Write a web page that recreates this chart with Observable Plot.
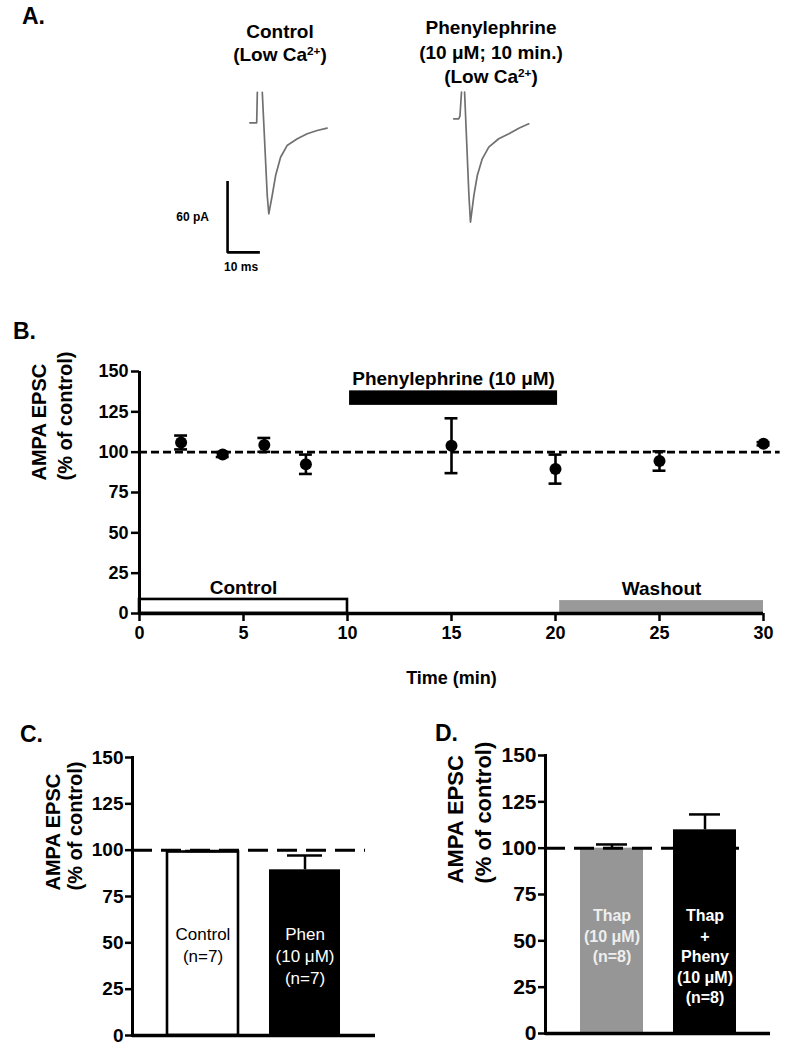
<!DOCTYPE html>
<html><head><meta charset="utf-8">
<script src="https://cdn.jsdelivr.net/npm/d3@7"></script>
<script src="https://cdn.jsdelivr.net/npm/@observablehq/plot@0.6"></script>
<style>
html,body{margin:0;padding:0;background:#fff;}
#fig{position:relative;width:787px;height:1050px;overflow:hidden;font-family:"Liberation Sans",Arial,Helvetica,sans-serif;color:#000;}
.plabel{position:absolute;font-weight:bold;line-height:1;}
.title{position:absolute;font-weight:bold;font-size:19px;text-align:center;width:220px;white-space:nowrap;}
.title sup{font-size:0.62em;line-height:0;vertical-align:0.55em;}
svg{overflow:visible;}
</style></head><body><div id="fig"></div>
<script>
const FONT = '"Liberation Sans", Arial, Helvetica, sans-serif';

// ---------- Panel A: example traces (ms, pA) ----------
const ctrlTimeMs    = [-0.2, 2.0, 2.2, null, 3.8, 5.4, 5.9, 7.0, 8.1, 9.7, 11.8, 15.1, 18.3, 21.5, 24.7];
const ctrlCurrentPa = [0, 0, 26.2, null, 26.2, -62.3, -78, -62.3, -45.2, -29.5, -19.5, -13.7, -9.4, -6.6, -4.6];
const phenTimeMs    = [0.4, 2.0, 2.4, 2.9, null, 3.9, 5.3, 5.8, 6.9, 8.0, 9.6, 11.7, 14.9, 18.2, 21.4, 24.6];
const phenCurrentPa = [0, 0, 2.2, 22.8, null, 22.8, -65.7, -88.6, -65.7, -48.6, -34.3, -24.3, -17.1, -12.9, -8.1, -4.3];
const scaleBarMs = 10;
const scaleBarPa = 60;

// ---------- Panel B: time course ----------
const timeMin  = [2, 4, 6, 8, 15, 20, 25, 30];
const epscMean = [106, 98.5, 104.5, 92.5, 104, 89.5, 94.5, 105.2];
const epscSem  = [4.3, 1.5, 4.3, 6, 17, 9, 6, 1];
const periodNames = ["Control", "Phenylephrine (10 μM)", "Washout"];
const periodStart = [0, 10.1, 20.2];
const periodEnd   = [10, 20.1, 30];
const periodLow   = [0, 129, 0];
const periodHigh  = [8.7, 138, 8];
const timeTicks = [0, 5, 10, 15, 20, 25, 30];
const pctTicks  = [0, 25, 50, 75, 100, 125, 150];
const baselinePct = 100;

// ---------- Panel C ----------
const cGroups  = ["Control", "Phen"];
const cMean    = [99, 89.4];
const cSem     = [0.6, 7.7];
const cBarText = ["Control\n(n=7)", "Phen\n(10 μM)\n(n=7)"];

// ---------- Panel D ----------
const dGroups  = ["Thap", "Thap + Pheny"];
const dMean    = [100, 109.9];
const dSem     = [2, 8.3];
const dBarText = ["Thap\n(10 μM)\n(n=8)", "Thap\n+\nPheny\n(10 μM)\n(n=8)"];

const fig = document.getElementById("fig");
function place(el, left, top) {
  el.style.position = "absolute";
  el.style.left = left + "px";
  el.style.top = top + "px";
  fig.appendChild(el);
  return el;
}
function html(cls, inner, left, top, extra) {
  const d = document.createElement("div");
  d.className = cls;
  d.innerHTML = inner;
  if (extra) Object.assign(d.style, extra);
  return place(d, left, top);
}
const baseStyle = {fontFamily: FONT, color: "black", background: "transparent", overflow: "visible"};

// Panel letters
html("plabel", "A.", 22, 5, {fontSize: "23px"});
html("plabel", "B.", 13, 320, {fontSize: "23px"});
html("plabel", "C.", 20, 723, {fontSize: "23px"});
html("plabel", "D.", 435, 722, {fontSize: "23px"});

// Panel A titles
html("title", "Control<br>(Low Ca<sup>2+</sup>)", 170, 20, {lineHeight: "23px"});
html("title", "Phenylephrine<br>(10 μM; 10 min.)<br>(Low Ca<sup>2+</sup>)", 381, 16, {lineHeight: "24.5px"});

// ---------- Panel A plots ----------
const pxPerMs = 3.1, pxPerPa = 70 / 60;
function tracePlot(t, cur, w, h, x0, y0, extra) {
  const data = t.map((tt, k) => ({t: tt, i: cur[k]}));
  return Plot.plot({
    width: w, height: h, margin: 0,
    x: {axis: null, domain: [-x0 / pxPerMs, (w - x0) / pxPerMs]},
    y: {axis: null, domain: [-(h - y0) / pxPerPa, y0 / pxPerPa]},
    style: baseStyle,
    marks: [
      Plot.line(data, {x: "t", y: "i", stroke: "#707070", strokeWidth: 1.7, strokeLinejoin: "round"}),
      ...(extra || [])
    ]
  });
}
const sbT = -7.4, sbI = -111.1;
const scaleBarPts = [
  {t: sbT, i: sbI + scaleBarPa},
  {t: sbT, i: sbI},
  {t: sbT + scaleBarMs, i: sbI}
];
const ctrlPlot = tracePlot(ctrlTimeMs, ctrlCurrentPa, 165, 195, 70, 37.3, [
  Plot.line(scaleBarPts, {x: "t", y: "i", stroke: "black", strokeWidth: 2.6, strokeLinejoin: "miter", strokeLinecap: "square"}),
  Plot.text([`${scaleBarPa} pA`], {x: sbT, y: sbI + scaleBarPa / 2, dx: -35, fontWeight: "bold", fontSize: 12}),
  Plot.text([`${scaleBarMs} ms`], {x: sbT + scaleBarMs / 2, y: sbI, dy: 15, dx: -2, fontWeight: "bold", fontSize: 12})
]);
place(ctrlPlot, 180, 85);
const phenPlot = tracePlot(phenTimeMs, phenCurrentPa, 130, 195, 32, 33.3);
place(phenPlot, 420, 85);

// ---------- Panel B ----------
const ptData = timeMin.map((t, k) => ({t, m: epscMean[k], s: epscSem[k]}));
const periods = periodNames.map((n, k) => ({name: n, x1: periodStart[k], x2: periodEnd[k], y1: periodLow[k], y2: periodHigh[k]}));
const capHalf = 0.31;
const plotB = Plot.plot({
  width: 787, height: 370, marginLeft: 139, marginRight: 24, marginTop: 41, marginBottom: 87,
  x: {domain: [0, 30]},
  y: {domain: [0, 150]},
  style: baseStyle,
  marks: [
    Plot.rect(periods, {filter: d => d.name === periodNames[0], x1: "x1", x2: "x2", y1: "y1", y2: "y2", fill: "white", stroke: "black", strokeWidth: 2.6}),
    Plot.rect(periods, {filter: d => d.name === periodNames[1], x1: "x1", x2: "x2", y1: "y1", y2: "y2", fill: "black"}),
    Plot.rect(periods, {filter: d => d.name === periodNames[2], x1: "x1", x2: "x2", y1: "y1", y2: "y2", fill: "#999999"}),
    Plot.text(periods, {x: d => (d.x1 + d.x2) / 2, y: "y2", text: "name", dy: -12, fontWeight: "bold", fontSize: 19}),
    Plot.ruleY([baselinePct], {x1: 0, x2: 30.8, stroke: "black", strokeWidth: 2.6, strokeDasharray: "8,4"}),
    Plot.ruleX(ptData, {x: "t", y1: d => d.m - d.s, y2: d => d.m + d.s, strokeWidth: 2.6}),
    Plot.ruleY(ptData, {y: d => d.m + d.s, x1: d => d.t - capHalf, x2: d => d.t + capHalf, strokeWidth: 2.6}),
    Plot.ruleY(ptData, {y: d => d.m - d.s, x1: d => d.t - capHalf, x2: d => d.t + capHalf, strokeWidth: 2.6}),
    Plot.dot(ptData, {x: "t", y: "m", r: 6, fill: "black"}),
    Plot.ruleY([0], {x1: 0, x2: 30, strokeWidth: 3.5}),
    Plot.ruleX([0], {y1: 0, y2: 150, strokeWidth: 3}),
    Plot.axisX({ticks: timeTicks, tickSize: 8, tickPadding: 5, strokeWidth: 2.5, fontWeight: "bold", fontSize: 18, label: null}),
    Plot.axisY({ticks: pctTicks, tickSize: 8, tickPadding: 3, strokeWidth: 2.5, fontWeight: "bold", fontSize: 18, label: null}),
    Plot.text(["Time (min)"], {frameAnchor: "bottom", dy: 70, fontWeight: "bold", fontSize: 18}),
    Plot.text(["AMPA EPSC\n(% of control)"], {frameAnchor: "left", rotate: -90, dx: -89, dy: -12, lineHeight: 1.33, fontWeight: "bold", fontSize: 20})
  ]
});
place(plotB, 0, 330);

// ---------- Bar panels ----------
function barPanel(groups, mean, sem, texts, cfg) {
  const data = groups.map((g, k) => ({g, m: mean[k], s: sem[k], label: texts[k]}));
  return Plot.plot({
    width: cfg.width, height: 310,
    marginLeft: cfg.ml, marginRight: cfg.mr, marginTop: cfg.mt, marginBottom: cfg.mb,
    x: {domain: groups, paddingInner: cfg.pi, paddingOuter: cfg.po, axis: null},
    y: {domain: [0, 150]},
    style: baseStyle,
    marks: [
      Plot.barY(data, {filter: d => d.g === groups[0], x: "g", y: "m", fill: cfg.fill0, stroke: cfg.stroke0, strokeWidth: 2.6}),
      Plot.barY(data, {filter: d => d.g === groups[1], x: "g", y: "m", fill: "black"}),
      Plot.ruleX(data, {x: "g", y1: "m", y2: d => d.m + d.s, strokeWidth: 2.5}),
      Plot.tickY(data, {x: "g", y: d => d.m + d.s, insetLeft: cfg.capInset, insetRight: cfg.capInset, strokeWidth: 2.5}),
      Plot.ruleY([baselinePct], {strokeWidth: 3, strokeDasharray: "20,9", insetRight: cfg.dashInset}),
      Plot.text(data, {filter: d => d.g === groups[0], x: "g", y: cfg.textY, text: "label", lineAnchor: "top", lineHeight: cfg.lh, fill: cfg.text0, fontSize: cfg.tfs, fontWeight: cfg.tfw}),
      Plot.text(data, {filter: d => d.g === groups[1], x: "g", y: cfg.textY, text: "label", lineAnchor: "top", lineHeight: cfg.lh, fill: "white", fontSize: cfg.tfs, fontWeight: cfg.tfw}),
      Plot.ruleY([0], {strokeWidth: 3.5}),
      Plot.frame({anchor: "left", strokeWidth: 3}),
      Plot.axisY({ticks: pctTicks, tickSize: 7, tickPadding: 2, strokeWidth: 2.5, fontWeight: "bold", fontSize: cfg.afs, label: null}),
      Plot.text(["AMPA EPSC\n(% of control)"], {frameAnchor: "left", rotate: -90, dx: cfg.ldx, dy: cfg.ldy, lineHeight: cfg.llh, fontWeight: "bold", fontSize: cfg.lfs})
    ]
  });
}
const plotC = barPanel(cGroups, cMean, cSem, cBarText, {
  width: 390, ml: 132, mr: 15, mt: 17, mb: 15, pi: 0.3, po: 0.34,
  fill0: "white", stroke0: "black", text0: "black", capInset: 18, dashInset: 10,
  textY: 60, lh: 1.3, tfs: 17, tfw: "normal", afs: 19,
  ldx: -69, ldy: -6, llh: 1.1, lfs: 20
});
place(plotC, 0, 740);
const plotD = barPanel(dGroups, dMean, dSem, dBarText, {
  width: 387, ml: 145, mr: 17, mt: 15, mb: 17, pi: 0.325, po: 0.36,
  fill0: "#969696", stroke0: "none", text0: "#eeeeee", capInset: 16, dashInset: 25,
  textY: 68.5, lh: 1.28, tfs: 16, tfw: "bold", afs: 21,
  ldx: -77, ldy: -11, llh: 1.27, lfs: 22
});
place(plotD, 400, 740);
</script></body></html>
